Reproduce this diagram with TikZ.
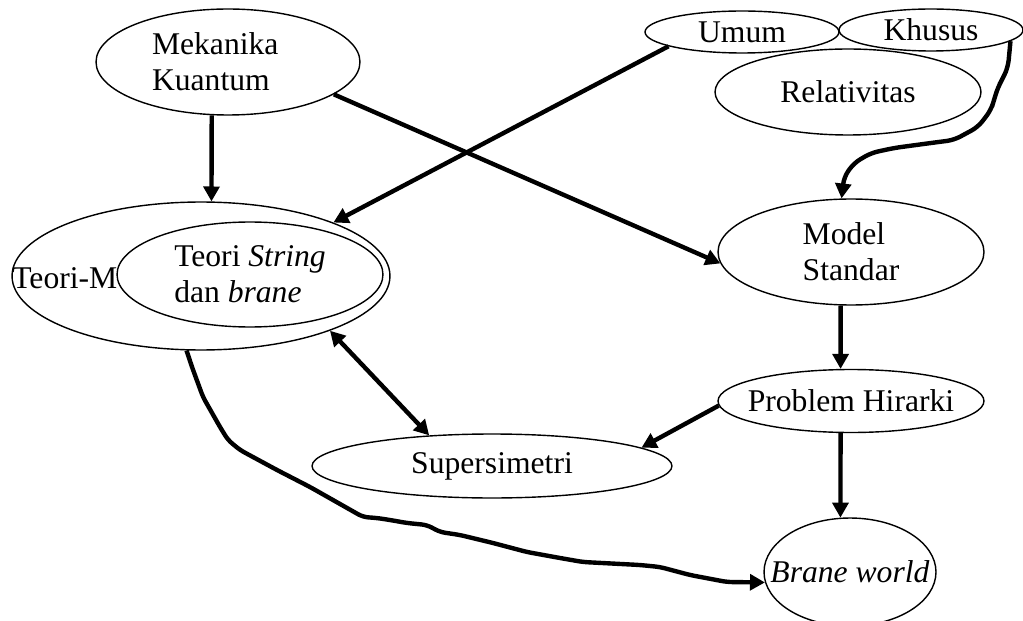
\documentclass[tikz,border=0pt]{standalone}
\usepackage{fontspec}
\setmainfont{Liberation Serif}
\usepackage{tikz}
\usetikzlibrary{shapes.geometric, arrows.meta}
\tikzset{
	ovalnode/.style={ellipse, draw, line width=0.8pt, inner sep=0pt, font=\fontsize{18}{20.5}\selectfont}
}
\tikzset{
	thickarrow/.style={line width=2.5pt, -{Triangle[length=8.5pt,width=9pt]}}
}
\tikzset{
	twowayarrow/.style={line width=2.5pt, {Triangle[length=8.5pt,width=9pt]}-{Triangle[length=8.5pt,width=9pt]}}
}
\newcommand{\ctext}[1]{\makebox[0pt]{#1}}

\begin{document}
\begin{tikzpicture}[x=0.02cm, y=-0.02cm]
      \useasboundingbox (0,0) rectangle (1023,621);
      \node[ovalnode, minimum width=5.28cm, minimum height=2.12cm, text width=3.04cm, align=left] (mek) at (228,62) {Mekanika\\Kuantum};
      \node[ovalnode, minimum width=7.56cm, minimum height=2.96cm] (tm) at (201,276) {};
      \node[ovalnode, minimum width=5.32cm, minimum height=2.1cm, align=left] (str) at (250,274.5) {Teori \textit{String}\\dan \textit{brane}};
      \node[font=\fontsize{18}{20.5}\selectfont, anchor=base west, inner sep=0pt] (tmlabel) at (12,288) {Teori-M};
      \node[ovalnode, minimum width=3.88cm, minimum height=0.84cm] (umum) at (742,32) {\ctext{Umum}};
      \node[ovalnode, minimum width=3.68cm, minimum height=0.84cm] (khusus) at (931,30) {\ctext{Khusus}};
      \node[ovalnode, minimum width=5.32cm, minimum height=1.72cm] (rel) at (848,92) {\ctext{Relativitas}};
      \node[ovalnode, minimum width=5.32cm, minimum height=2.12cm, align=left] (model) at (851,252) {Model\\Standar};
      \node[ovalnode, minimum width=5.32cm, minimum height=1.26cm] (prob) at (851,401) {\ctext{Problem Hirarki}};
      \node[ovalnode, minimum width=7.2cm, minimum height=1.28cm] (susy) at (492,466) {\ctext{Supersimetri}};
      \node[ovalnode, minimum width=3.44cm, minimum height=2.16cm] (brane) at (850,572) {\ctext{\textit{Brane world}}};
      \draw[thickarrow] (mek.253) -- (tm.82);
      \draw[thickarrow] (mek.-17) -- (model.185);
      \draw[thickarrow] (umum.191) -- (tm.22);
      \draw[thickarrow, rounded corners=4pt] (khusus.-8) -- (1008,67) -- (1003,78) -- (998,87) -- (994,100) -- (991,110) -- (978,127) -- (954,140) -- (931,143) -- (894,148) -- (871,153) -- (854,163) -- (844,177) -- (model.100);
      \draw[thickarrow] (model.259) -- (prob.108);
      \draw[thickarrow] (prob.182) -- (susy.7);
      \draw[twowayarrow] (tm.-23) -- (susy.154);
      \draw[thickarrow] (prob.252) -- (brane.100);
      \draw[thickarrow, rounded corners=3pt] (tm.259) -- (192,367) -- (203,397) -- (220,427) -- (228,440) -- (240,450) -- (277,470) -- (310,487) -- (363,517) -- (377,518) -- (390,520) -- (407,523) -- (427,525) -- (440,532) -- (460,535) -- (493,543) -- (527,552) -- (560,558) -- (583,562) -- (640,565) -- (660,567) -- (690,575) -- (727,582) -- (brane.187);
    \end{tikzpicture}
\end{document}
